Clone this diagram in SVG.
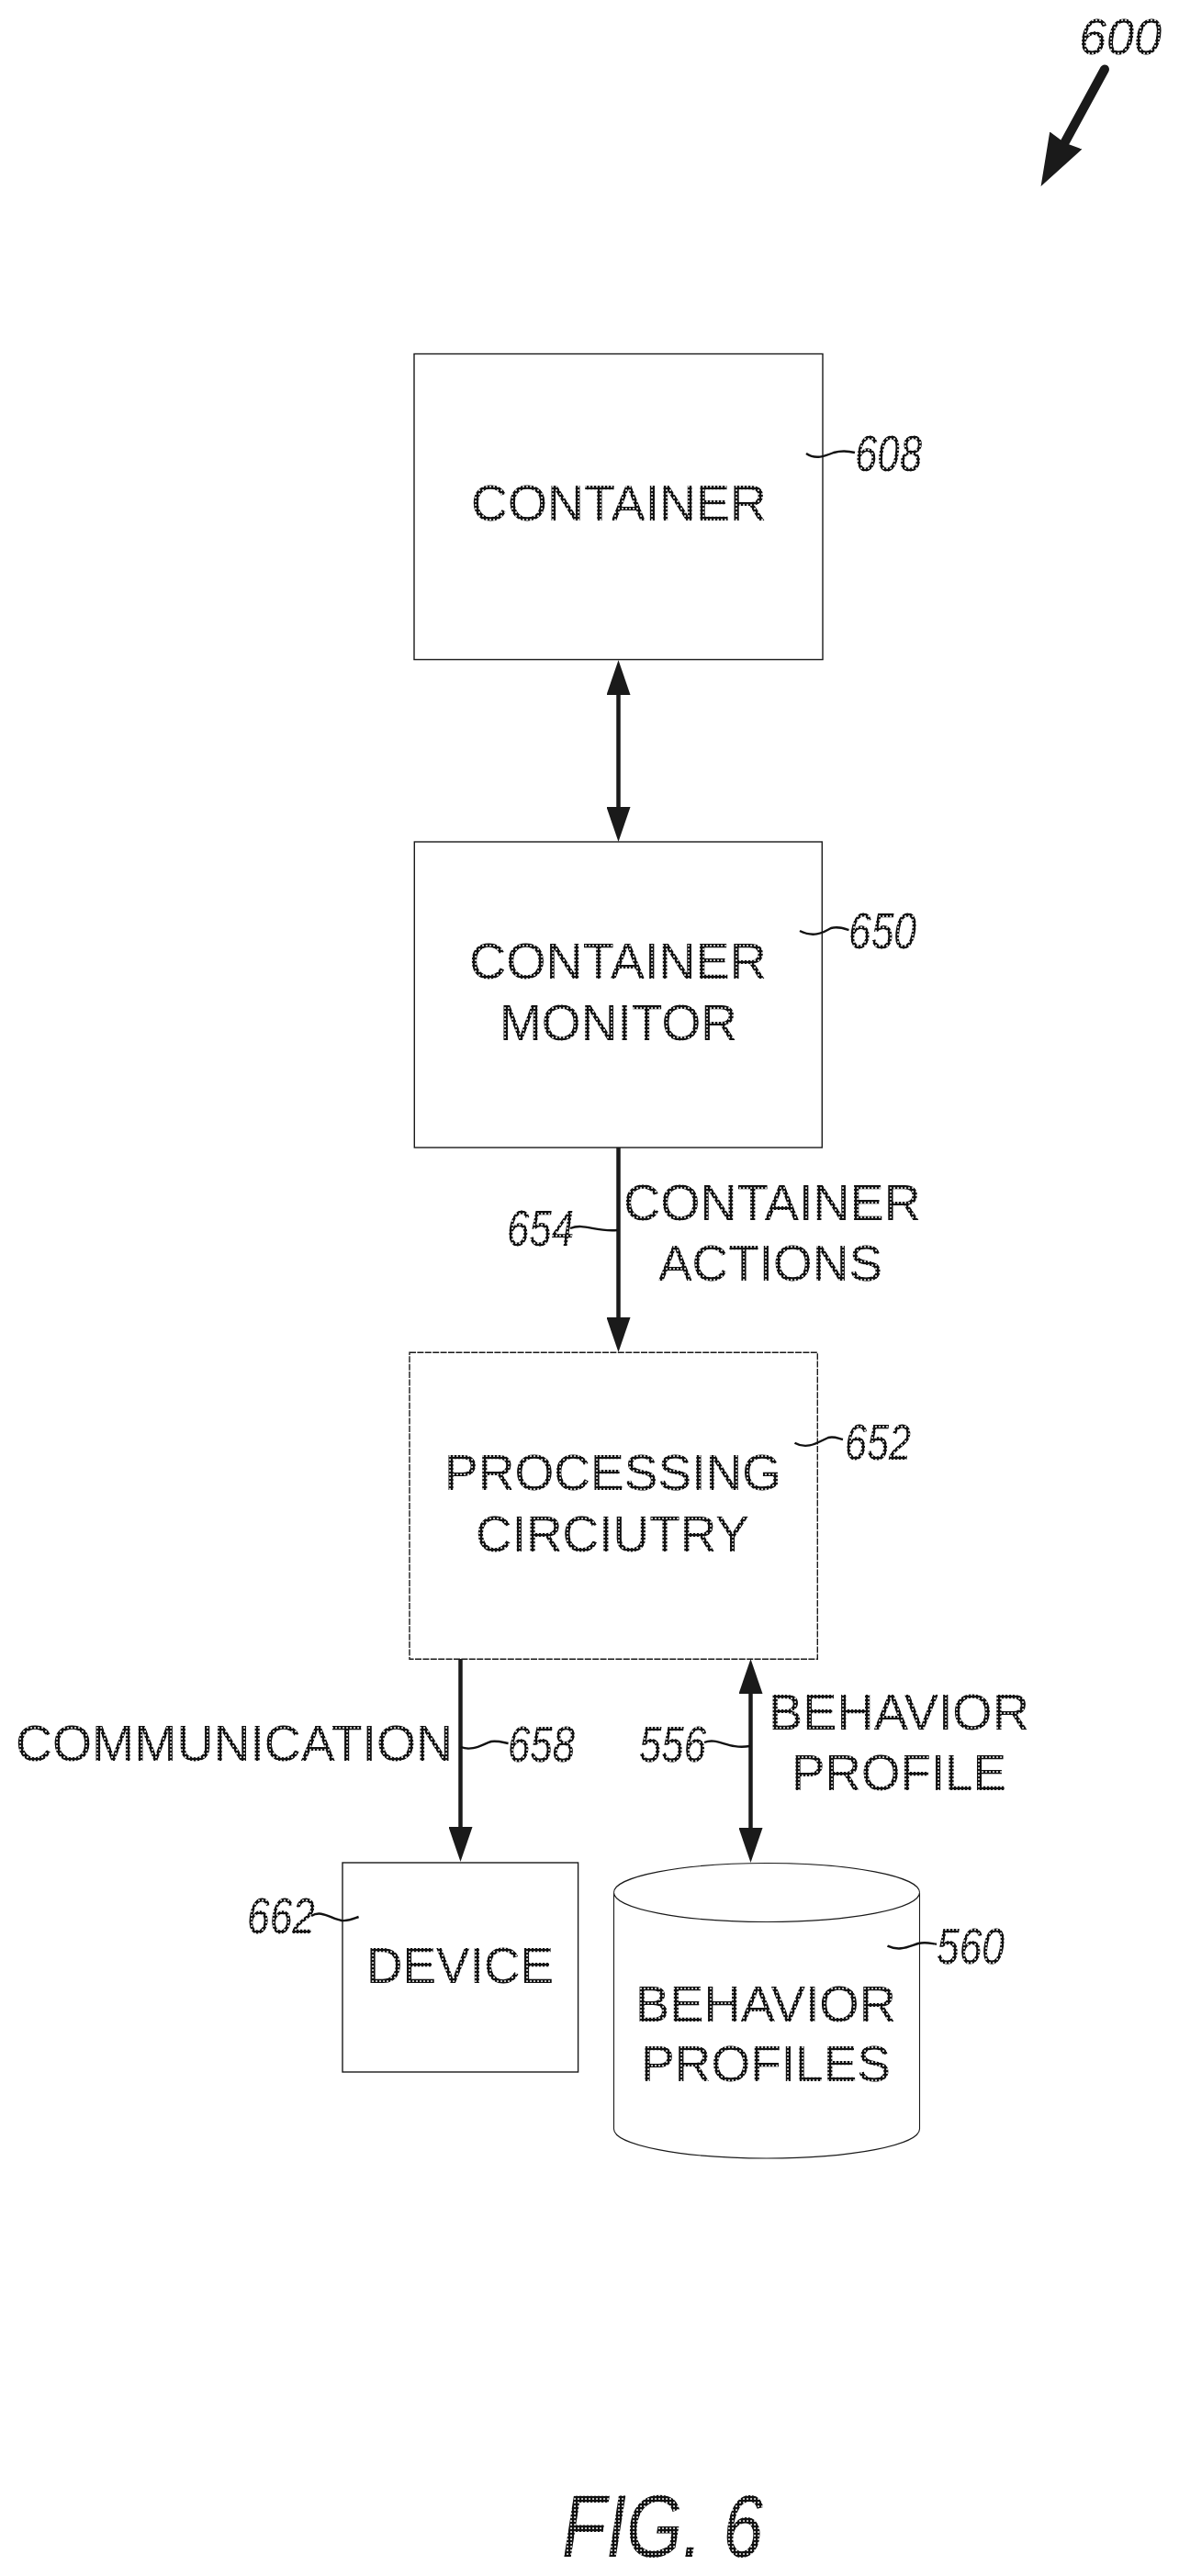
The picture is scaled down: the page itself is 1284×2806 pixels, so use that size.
<svg xmlns="http://www.w3.org/2000/svg" width="1284" height="2806" viewBox="0 0 1284 2806">
<style>
.box{fill:#fff;stroke:#1a1a1a;stroke-width:1.4}
.dash{stroke-dasharray:7 1.4}
.cyl{fill:#fff;stroke:#1a1a1a;stroke-width:1.1}
.lab{font-family:"Liberation Sans",Arial,sans-serif;font-size:55px;fill:url(#speck)}
.ref{font-family:"Liberation Sans",Arial,sans-serif;font-size:56px;font-style:italic;fill:url(#speck)}
.fig{font-family:"Liberation Sans",Arial,sans-serif;font-size:96px;font-style:italic;fill:url(#speck)}
.arrow{stroke:#1a1a1a;stroke-width:4.5;fill:none}
.leader{stroke:#111;stroke-width:2.4;fill:none}
</style>
<defs>
<pattern id="speck" width="4" height="4" patternUnits="userSpaceOnUse"><rect width="4" height="4" fill="#111"/><rect x="1.2" y="1.2" width="1.7" height="1.7" fill="#fff"/></pattern>
<marker id="head" markerUnits="userSpaceOnUse" markerWidth="38" markerHeight="26" viewBox="0 0 38 26" refX="8" refY="13" orient="auto-start-reverse"><path d="M0,0 L38,13 L0,26 Z" fill="#1a1a1a"/></marker>
<marker id="bighead" markerUnits="userSpaceOnUse" markerWidth="58" markerHeight="42" viewBox="0 0 58 42" refX="8" refY="21" orient="auto"><path d="M0,1 L57,21 L0,41 L3,21 Z" fill="#1a1a1a"/></marker>
</defs>
<rect width="1284" height="2806" fill="#fff"/>
<g id="node-608">
<rect class="box" x="451" y="385.5" width="445" height="333"/>
<text class="lab" x="513" y="567" textLength="322" lengthAdjust="spacingAndGlyphs">CONTAINER</text>
<text class="ref" x="931" y="513" textLength="73" lengthAdjust="spacingAndGlyphs">608</text>
</g>
<g id="node-650">
<rect class="box" x="451.3" y="917" width="444" height="333"/>
<text class="lab" x="511" y="1066" textLength="324" lengthAdjust="spacingAndGlyphs">CONTAINER</text>
<text class="lab" x="544" y="1132.5" textLength="259" lengthAdjust="spacingAndGlyphs">MONITOR</text>
<text class="ref" x="924" y="1033" textLength="74" lengthAdjust="spacingAndGlyphs">650</text>
</g>
<g id="node-652">
<rect class="box dash" x="446" y="1473.3" width="444.3" height="334"/>
<text class="lab" x="484" y="1623" textLength="367" lengthAdjust="spacingAndGlyphs">PROCESSING</text>
<text class="lab" x="518" y="1690" textLength="298" lengthAdjust="spacingAndGlyphs">CIRCIUTRY</text>
<text class="ref" x="920" y="1590" textLength="72" lengthAdjust="spacingAndGlyphs">652</text>
</g>
<g id="node-662">
<rect class="box" x="373" y="2029" width="256.6" height="228"/>
<text class="lab" x="399" y="2160" textLength="204" lengthAdjust="spacingAndGlyphs">DEVICE</text>
<text class="ref" x="269" y="2106" textLength="74" lengthAdjust="spacingAndGlyphs">662</text>
</g>
<g id="node-560">
<path class="cyl" d="M668.5,2061.5 A166.5,32 0 0 1 1001.5,2061.5 V2319 A166.5,32 0 0 1 668.5,2319 Z"/>
<path class="cyl" d="M668.5,2061.5 A166.5,32 0 0 0 1001.5,2061.5" fill="none"/>
<text class="lab" x="692" y="2201.5" textLength="284" lengthAdjust="spacingAndGlyphs">BEHAVIOR</text>
<text class="lab" x="698" y="2267" textLength="272" lengthAdjust="spacingAndGlyphs">PROFILES</text>
<text class="ref" x="1020" y="2139" textLength="74" lengthAdjust="spacingAndGlyphs">560</text>
</g>
<g id="labels">
<text class="lab" x="679" y="1328.5" textLength="324" lengthAdjust="spacingAndGlyphs">CONTAINER</text>
<text class="lab" x="717" y="1395" textLength="244" lengthAdjust="spacingAndGlyphs">ACTIONS</text>
<text class="ref" x="552" y="1357" textLength="73" lengthAdjust="spacingAndGlyphs">654</text>
<text class="lab" x="17" y="1917.5" textLength="476" lengthAdjust="spacingAndGlyphs">COMMUNICATION</text>
<text class="ref" x="553" y="1919" textLength="73" lengthAdjust="spacingAndGlyphs">658</text>
<text class="lab" x="837" y="1884" textLength="284" lengthAdjust="spacingAndGlyphs">BEHAVIOR</text>
<text class="lab" x="862" y="1949.5" textLength="234" lengthAdjust="spacingAndGlyphs">PROFILE</text>
<text class="ref" x="696" y="1919" textLength="73" lengthAdjust="spacingAndGlyphs">556</text>
<text class="ref" x="1175" y="59" textLength="90" lengthAdjust="spacingAndGlyphs">600</text>
<text class="fig" x="612" y="2785" textLength="219" lengthAdjust="spacingAndGlyphs">FIG. 6</text>
</g>
<g id="connectors">
<line class="arrow" x1="673.5" y1="749" x2="673.5" y2="887" marker-start="url(#head)" marker-end="url(#head)"/>
<line class="arrow" x1="673.5" y1="1250" x2="673.5" y2="1443" marker-end="url(#head)"/>
<line class="arrow" x1="501.5" y1="1807" x2="501.5" y2="1998" marker-end="url(#head)"/>
<line class="arrow" x1="817.5" y1="1837" x2="817.5" y2="1999" marker-start="url(#head)" marker-end="url(#head)"/>
<line x1="1203" y1="75.5" x2="1157" y2="160" stroke="#1a1a1a" stroke-width="10" stroke-linecap="round" marker-end="url(#bighead)"/>
<g id="leaders">
<path class="leader" d="M878,494 C888,501 898,497 908,493 C915,491 923,491 931,493"/>
<path class="leader" d="M871,1014 C885,1021 895,1017 905,1011 C912,1009 918,1011 924.5,1013"/>
<path class="leader" d="M621,1338 C636,1332 648,1342 672,1340"/>
<path class="leader" d="M865.5,1571.7 C880,1580 892,1570 902,1566 C908,1564 913,1567 918,1568"/>
<path class="leader" d="M502,1903 C515,1908 525,1900 535,1897 C542,1896 548,1898 553.6,1899"/>
<path class="leader" d="M339,2087 C350,2080 360,2090 372,2092 C380,2093 385,2090 390.6,2088"/>
<path class="leader" d="M767,1898 C782,1892 792,1906 816.6,1902"/>
<path class="leader" d="M966.5,2119.7 C980,2126 990,2120 1000,2117 C1008,2115 1014,2117 1020,2117.7"/>
</g>
</g>
</svg>
